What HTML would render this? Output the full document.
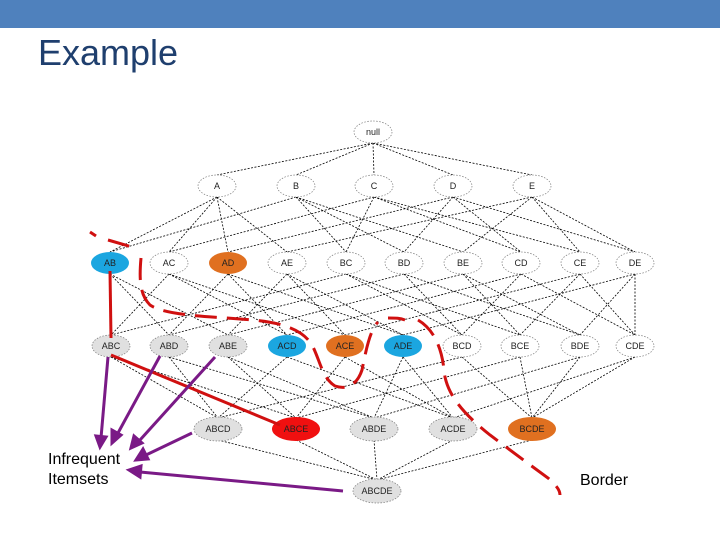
<!DOCTYPE html>
<html><head><meta charset="utf-8"><style>
body{margin:0;width:720px;height:540px;background:#fff;overflow:hidden;font-family:"Liberation Sans",sans-serif}
</style></head><body>
<svg id="s" width="720" height="540" xmlns="http://www.w3.org/2000/svg">
<rect x="0" y="0" width="720" height="28" fill="#4f81bd"/>
<text x="38" y="65" font-size="36" fill="#1f3f6e" font-family="Liberation Sans,sans-serif">Example</text>
<g id="edges" stroke="#000" stroke-width="0.8" stroke-dasharray="2,1.5"></g>
<g id="nodes" font-family="Liberation Sans,sans-serif" font-size="9" text-anchor="middle"></g>
<path d="M90,232 L96,236 M108,240 L132,247 M141,258 C139,280 140,295 150,305 C165,315 200,316 240,319 C270,321 300,325 312,345 C320,360 322,378 335,386 C347,390 357,385 362,370 C366,350 370,330 378,322 M388,318 C396,318 400,318 405,320 M418,320 C435,330 442,350 444,370 C446,395 465,415 490,435 C510,450 530,465 548,478 C556,485 560,490 560,495" fill="none" stroke="#d01010" stroke-width="3" stroke-dasharray="22,10"/>
<line x1="110" y1="271" x2="111" y2="338" stroke="#d01010" stroke-width="3"/>
<line x1="111" y1="355" x2="280" y2="425" stroke="#d01010" stroke-width="3"/>
<g stroke="#7a1a86" stroke-width="3" fill="#7a1a86">
<line x1="108" y1="357" x2="101" y2="438"/><polygon points="96,436 106,437 100,447"/>
<line x1="160" y1="356" x2="118" y2="433"/><polygon points="112,430 121,435 112,443"/>
<line x1="215" y1="357" x2="140" y2="440"/><polygon points="134,436 142,443 131,448"/>
<line x1="192" y1="433" x2="146" y2="455"/><polygon points="143,449 148,459 136,460"/>
<line x1="343" y1="491" x2="140" y2="472"/><polygon points="141,466 140,477 129,470"/>
</g>
<text x="48" y="464" font-size="16">Infrequent</text>
<text x="48" y="484" font-size="16">Itemsets</text>
<text x="580" y="485" font-size="16">Border</text>
</svg>
<script>
var L=[
[["null",373,132]],
[["A",217,186],["B",296,186],["C",374,186],["D",453,186],["E",532,186]],
[["AB",110,263],["AC",169,263],["AD",228,263],["AE",287,263],["BC",346,263],["BD",404,263],["BE",463,263],["CD",521,263],["CE",580,263],["DE",635,263]],
[["ABC",111,346],["ABD",169,346],["ABE",228,346],["ACD",287,346],["ACE",345,346],["ADE",403,346],["BCD",462,346],["BCE",520,346],["BDE",580,346],["CDE",635,346]],
[["ABCD",218,429],["ABCE",296,429],["ABDE",374,429],["ACDE",453,429],["BCDE",532,429]],
[["ABCDE",377,491]]];
var col={AB:"#1ba6e0",ACD:"#1ba6e0",ADE:"#1ba6e0",AD:"#e07020",ACE:"#e07020",BCDE:"#e07020",ABCE:"#f01010",
ABC:"#e0e0e0",ABD:"#e0e0e0",ABE:"#e0e0e0",ABCD:"#e0e0e0",ABDE:"#e0e0e0",ACDE:"#e0e0e0",ABCDE:"#e0e0e0"};
var ns="http://www.w3.org/2000/svg",E=document.getElementById("edges"),N=document.getElementById("nodes");
function sub(a,b){if(a=="null")return true;for(var c of a)if(b.indexOf(c)<0)return false;return true;}
for(var i=0;i<L.length-1;i++)for(var p of L[i])for(var c of L[i+1])if(sub(p[0],c[0])){
var l=document.createElementNS(ns,"line");l.setAttribute("x1",p[1]);l.setAttribute("y1",p[2]+11);l.setAttribute("x2",c[1]);l.setAttribute("y2",c[2]-11);E.appendChild(l);}
for(var i=0;i<L.length;i++)for(var n of L[i]){
var rx=i>=4?24:19,ry=i>=4?12:11;
var e=document.createElementNS(ns,"ellipse");e.setAttribute("cx",n[1]);e.setAttribute("cy",n[2]);e.setAttribute("rx",rx);e.setAttribute("ry",ry);
var f=col[n[0]]||"#fff";e.setAttribute("fill",f);
if(!col[n[0]]||f=="#e0e0e0"){e.setAttribute("stroke","#777");e.setAttribute("stroke-width","0.7");e.setAttribute("stroke-dasharray","1.5,1.5");}
N.appendChild(e);
var t=document.createElementNS(ns,"text");t.setAttribute("x",n[1]);t.setAttribute("y",n[2]+3);t.textContent=n[0];t.setAttribute("fill","#222");N.appendChild(t);}
</script>
</body></html>
